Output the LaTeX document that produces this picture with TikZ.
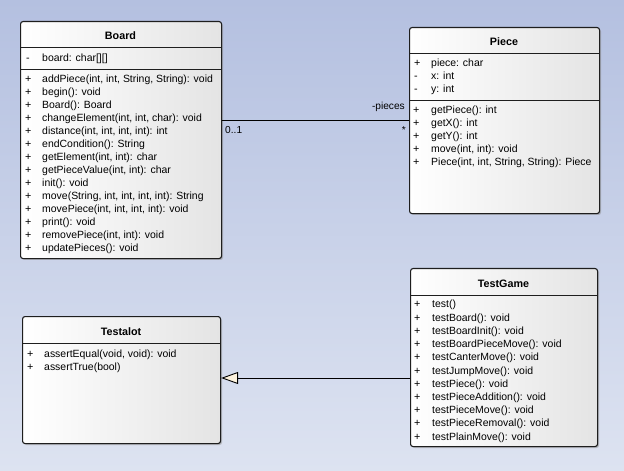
\documentclass[tikz,border=0pt]{standalone}
\usepackage{fontspec}
\setmainfont{Liberation Sans}
\usetikzlibrary{arrows.meta}
\definecolor{bgtop}{RGB}{180,192,224}
\definecolor{bgbot}{RGB}{221,227,241}
\definecolor{boxedge}{RGB}{30,30,30}
\definecolor{boxgrey}{RGB}{228,228,228}
\definecolor{tipfill}{RGB}{253,243,222}
\tikzset{
  classbox/.style={draw=boxedge, line width=1.1bp, rounded corners=2.5bp,
    left color=white, right color=boxgrey, shading angle=90, inner sep=0pt,
    anchor=north west},
  shadowbox/.style={fill=black!45, opacity=0.5, rounded corners=2.5bp},
  sepline/.style={draw=boxedge, line width=0.9bp},
  ctitle/.style={font=\fontsize{10.8}{12}\selectfont\bfseries, anchor=center, inner sep=0pt},
  vis/.style={font=\fontsize{10.8}{12}\selectfont, anchor=base west, inner sep=0pt},
  member/.style={font=\fontsize{10.5}{12}\selectfont, anchor=base west, inner sep=0pt},
  rolelabel/.style={font=\fontsize{10.2}{12}\selectfont, inner sep=0pt},
  assoc/.style={draw=black, line width=0.9bp},
  inherit/.style={draw=black, line width=0.9bp,
    -{Triangle[open, length=17bp, width=12bp, fill=tipfill]}},
}
\begin{document}
\begin{tikzpicture}[x=1bp, y=-1bp]
\useasboundingbox (0,0) rectangle (624,471);
% background wash
\shade[top color=bgtop, bottom color=bgbot] (0,0) rectangle (624,471);

% ---------- Board ----------
\fill[shadowbox] (22,23) rectangle (223,260);
\node[classbox, minimum width=201bp, minimum height=237bp] (board) at (20,21) {};
\draw[sepline] (20,47) -- (221,47);
\draw[sepline] (20,69) -- (221,69);
\node[ctitle] (boardT) at (120.5,35.5) {Board};
\node[vis] (ba0) at (26,62) {-};
\node[member] (ba1) at (42,62) {board: char[][]};
\foreach \i/\m in {0/{addPiece(int, int, String, String): void},
                   1/{begin(): void},
                   2/{Board(): Board},
                   3/{changeElement(int, int, char): void},
                   4/{distance(int, int, int, int): int},
                   5/{endCondition(): String},
                   6/{getElement(int, int): char},
                   7/{getPieceValue(int, int): char},
                   8/{init(): void},
                   9/{move(String, int, int, int, int): String},
                   10/{movePiece(int, int, int, int): void},
                   11/{print(): void},
                   12/{removePiece(int, int): void},
                   13/{updatePieces(): void}}{
  \node[vis] (bp\i) at (25,83+13*\i) {+};
  \node[member] (bm\i) at (42,83+13*\i) {\m};
}

% ---------- Piece ----------
\fill[shadowbox] (411,29) rectangle (601,215);
\node[classbox, minimum width=190bp, minimum height=186bp] (piece) at (409,27) {};
\draw[sepline] (409,53) -- (599,53);
\draw[sepline] (409,100) -- (599,100);
\node[ctitle] (pieceT) at (504,42) {Piece};
\foreach \i/\v/\m in {0/+/{piece: char}, 1/-/{x: int}, 2/-/{y: int}}{
  \node[vis] (pv\i) at (414,67+13*\i) {\v};
  \node[member] (pa\i) at (431,67+13*\i) {\m};
}
\foreach \i/\m in {0/{getPiece(): int}, 1/{getX(): int}, 2/{getY(): int},
                   3/{move(int, int): void},
                   4/{Piece(int, int, String, String): Piece}}{
  \node[vis] (pp\i) at (413,114+13*\i) {+};
  \node[member] (pm\i) at (431,114+13*\i) {\m};
}

% ---------- Testalot ----------
\fill[shadowbox] (24,318) rectangle (222,445);
\node[classbox, minimum width=198bp, minimum height=127bp] (testalot) at (22,316) {};
\draw[sepline] (22,343) -- (220,343);
\node[ctitle] (testalotT) at (121,332) {Testalot};
\foreach \i/\m in {0/{assertEqual(void, void): void}, 1/{assertTrue(bool)}}{
  \node[vis] (tp\i) at (27,357+13*\i) {+};
  \node[member] (tm\i) at (44,357+13*\i) {\m};
}

% ---------- TestGame ----------
\fill[shadowbox] (412,270) rectangle (599,448);
\node[classbox, minimum width=187bp, minimum height=178bp] (testgame) at (410,268) {};
\draw[sepline] (410,295) -- (597,295);
\node[ctitle] (testgameT) at (503.5,284) {TestGame};
\foreach \i/\m in {0/{test()}, 1/{testBoard(): void}, 2/{testBoardInit(): void},
                   3/{testBoardPieceMove(): void}, 4/{testCanterMove(): void},
                   5/{testJumpMove(): void}, 6/{testPiece(): void},
                   7/{testPieceAddition(): void}, 8/{testPieceMove(): void},
                   9/{testPieceRemoval(): void}, 10/{testPlainMove(): void}}{
  \node[vis] (gp\i) at (414,308+13.2*\i) {+};
  \node[member] (gm\i) at (432,308+13.2*\i) {\m};
}

% ---------- relations ----------
\coordinate (assocY) at (0,120);
\draw[assoc] (board.east |- assocY) -- (piece.west |- assocY);
\node[rolelabel, anchor=base east] (roleP) at (405,110) {-pieces};
\node[rolelabel, anchor=base west] (roleB) at (225,134) {0..1};
\node[rolelabel, anchor=base east] (roleM) at (406,134) {*};

\coordinate (inhY) at (0,378);
\draw[inherit] (testgame.west |- inhY) -- (testalot.east |- inhY);
\end{tikzpicture}
\end{document}
